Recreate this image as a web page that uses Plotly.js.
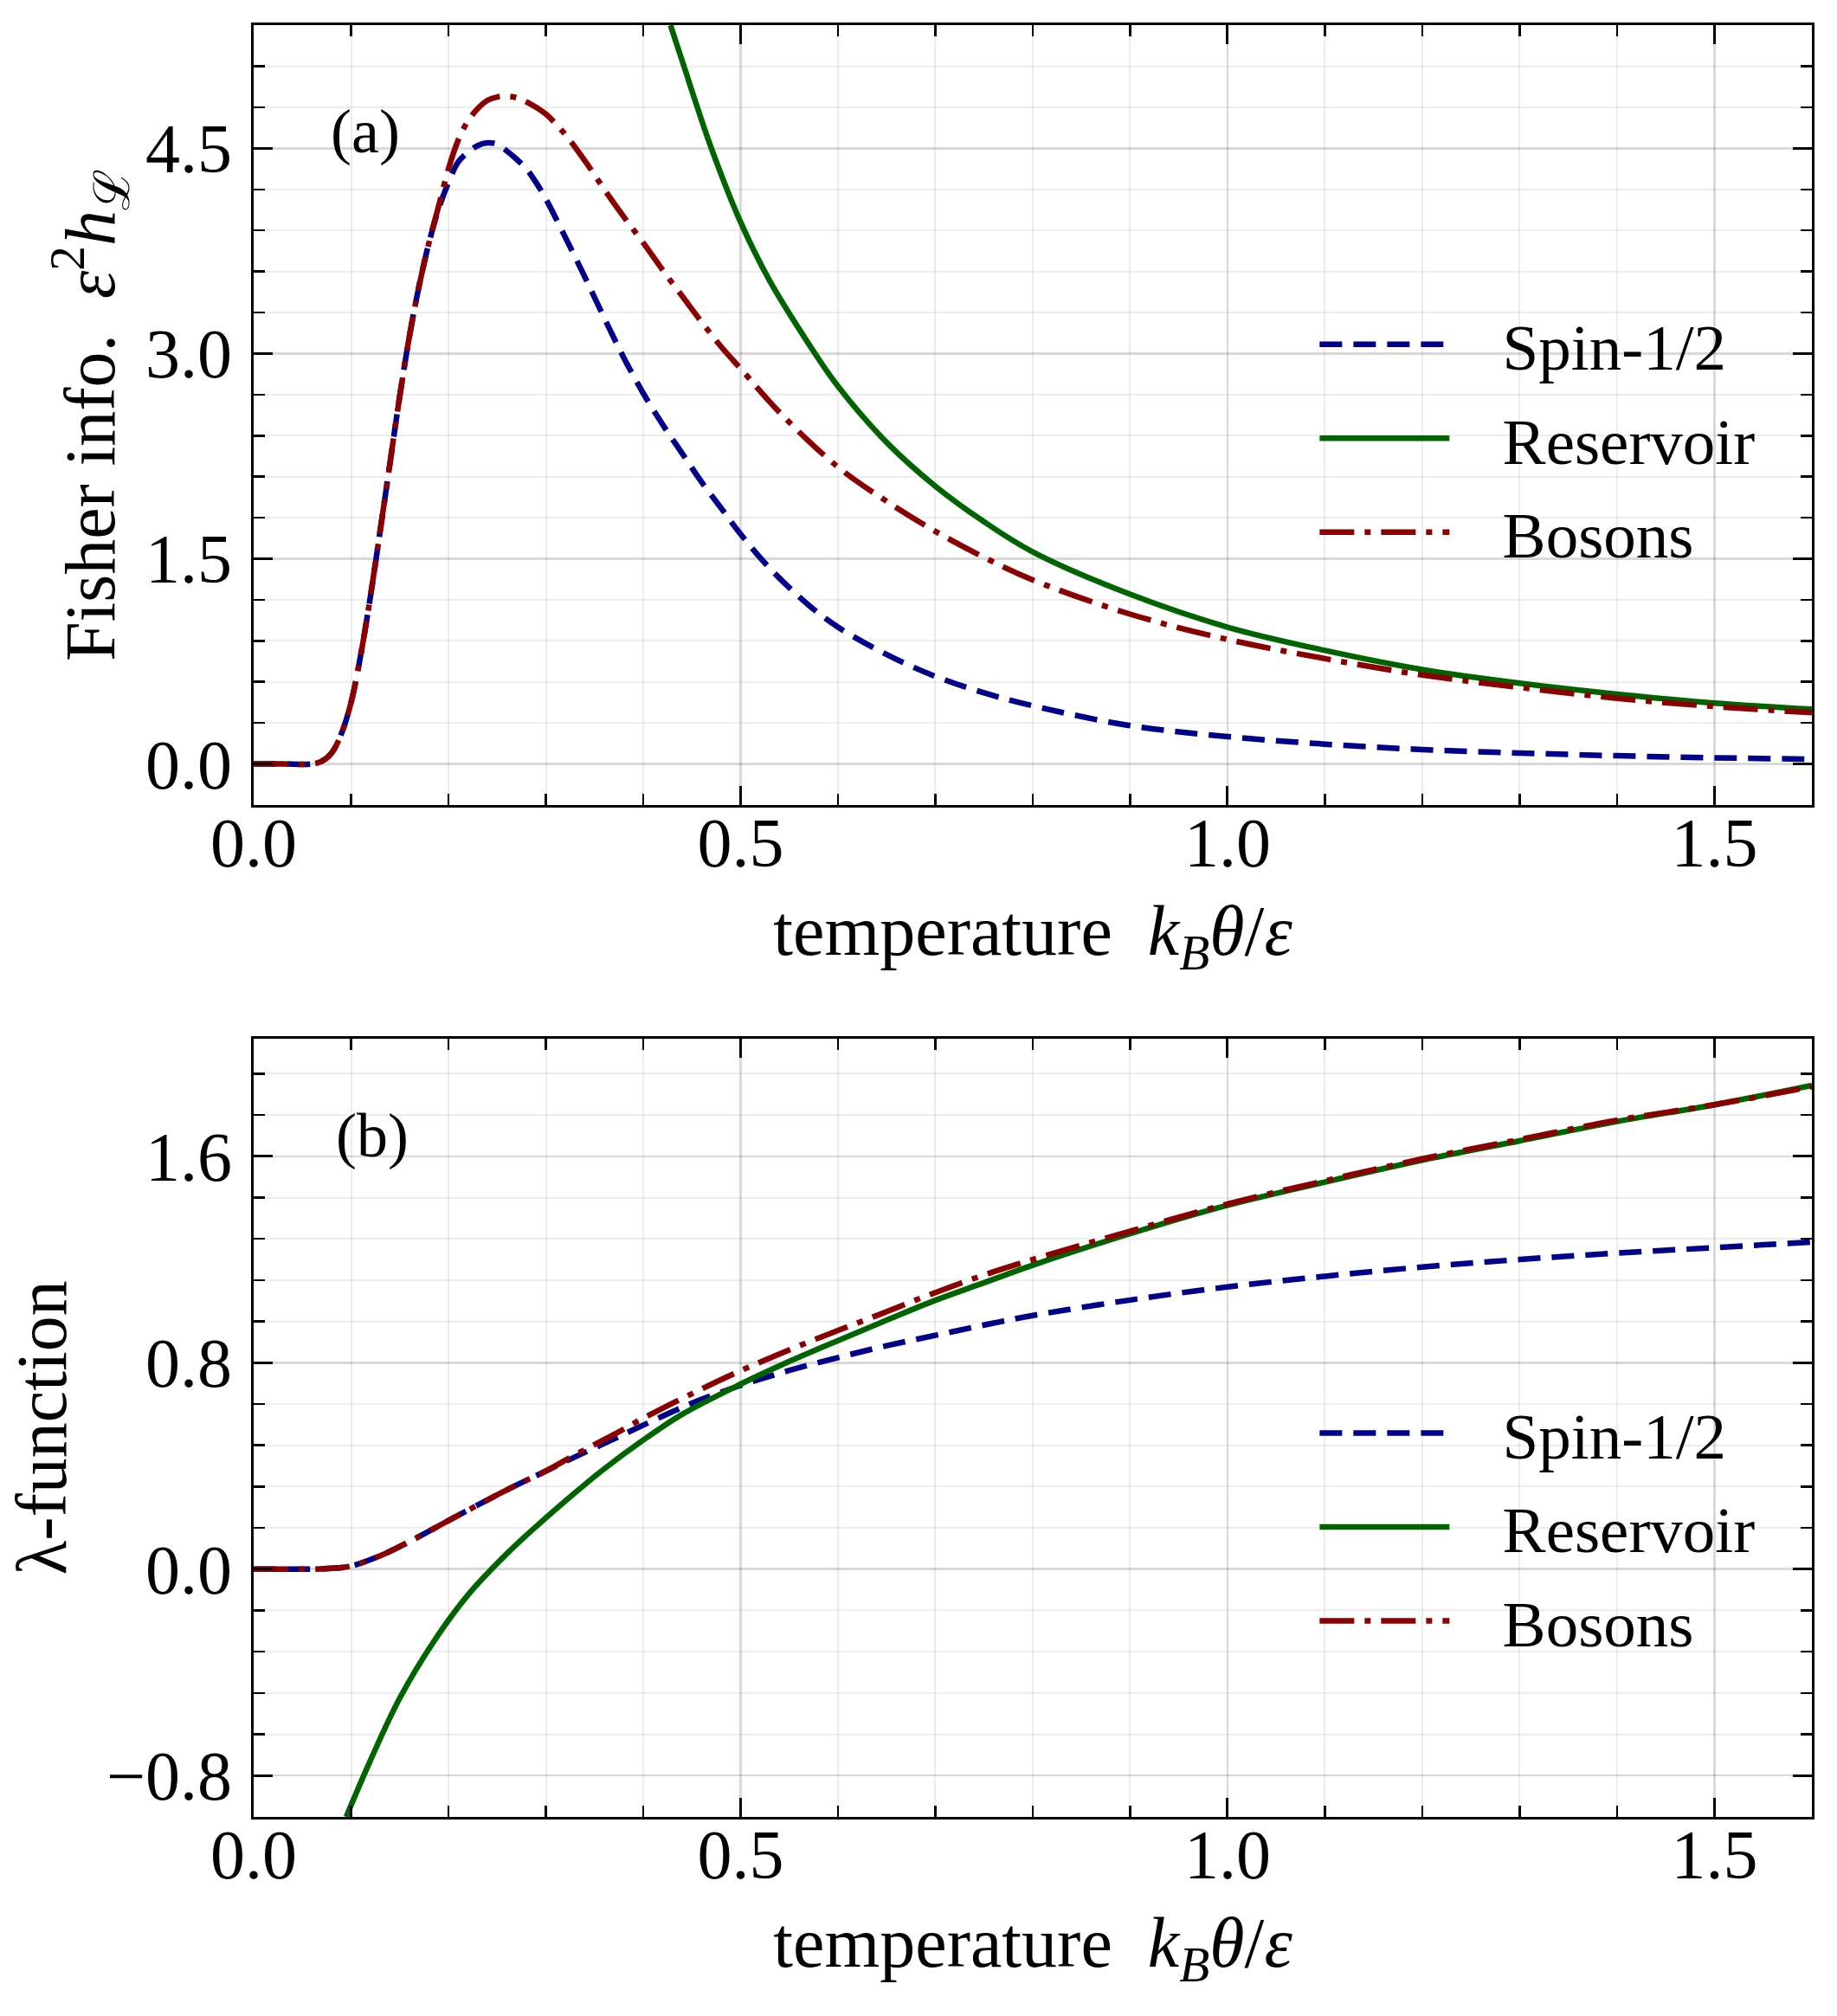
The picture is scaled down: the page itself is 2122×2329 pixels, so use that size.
<!DOCTYPE html>
<html>
<head>
<meta charset="utf-8">
<script src="https://cdn.plot.ly/plotly-3.0.1.min.js"></script>
<style>
  html, body { margin: 0; padding: 0; background: #ffffff; }
  #chart { width: 2122px; height: 2329px; }
</style>
</head>
<body>
<div id="chart"></div>
<script>
CHART = document.getElementById('chart');

const FONT = 'Liberation Serif, Times New Roman, serif';
const BLUE = '#00008b';
const GREEN = '#006400';
const RED = '#8b0000';

// (a) Fisher information
const fisherSpinX = [0.00, 0.03, 0.06, 0.07, 0.08, 0.09, 0.10, 0.11, 0.12, 0.13, 0.14, 0.15, 0.16, 0.17, 0.18, 0.19,
  0.20, 0.21, 0.22, 0.23, 0.24, 0.25, 0.26, 0.27, 0.28, 0.29, 0.30, 0.32, 0.34, 0.36, 0.38, 0.40, 0.42, 0.44, 0.46,
  0.48, 0.50, 0.53, 0.57, 0.60, 0.65, 0.70, 0.75, 0.80, 0.90, 1.00, 1.10, 1.20, 1.30, 1.40, 1.50, 1.60];
const fisherSpinY = [0, 0, 0, 0.02, 0.08, 0.22, 0.45, 0.80, 1.23, 1.71, 2.20, 2.69, 3.13, 3.50, 3.81, 4.06,
  4.25, 4.40, 4.47, 4.52, 4.54, 4.53, 4.48, 4.42, 4.35, 4.25, 4.13, 3.85, 3.56, 3.26, 2.97, 2.71, 2.48, 2.27, 2.06,
  1.87, 1.68, 1.43, 1.16, 1.00, 0.80, 0.64, 0.52, 0.425, 0.28, 0.20, 0.145, 0.105, 0.08, 0.06, 0.045, 0.035];

const fisherResX = [0.428, 0.44, 0.45, 0.47, 0.50, 0.53, 0.57, 0.60, 0.65, 0.70, 0.75, 0.80, 0.90, 1.00,
  1.10, 1.20, 1.30, 1.40, 1.50, 1.60];
const fisherResY = [5.40, 5.14, 4.92, 4.50, 3.96, 3.53, 3.07, 2.76, 2.35, 2.03, 1.77, 1.55, 1.24, 1.00,
  0.83, 0.69, 0.59, 0.51, 0.445, 0.40];

const fisherBosX = [0.00, 0.03, 0.06, 0.07, 0.08, 0.09, 0.10, 0.11, 0.12, 0.13, 0.14, 0.15, 0.16, 0.17, 0.18, 0.19,
  0.20, 0.21, 0.22, 0.23, 0.24, 0.25, 0.26, 0.27, 0.28, 0.30, 0.32, 0.34, 0.36, 0.38, 0.40, 0.42, 0.44, 0.46,
  0.48, 0.50, 0.54, 0.60, 0.65, 0.70, 0.75, 0.80, 0.90, 1.00, 1.10, 1.20, 1.30, 1.40, 1.50, 1.60];
const fisherBosY = [0, 0, 0, 0.02, 0.08, 0.22, 0.45, 0.80, 1.23, 1.71, 2.20, 2.69, 3.13, 3.50, 3.81, 4.08,
  4.35, 4.56, 4.70, 4.79, 4.85, 4.875, 4.88, 4.87, 4.84, 4.75, 4.60, 4.41, 4.20, 4.00, 3.81, 3.61, 3.42, 3.23,
  3.05, 2.89, 2.57, 2.17, 1.92, 1.70, 1.51, 1.345, 1.095, 0.91, 0.77, 0.65, 0.56, 0.48, 0.42, 0.375];

// (b) lambda-function
const lamSpinX = [0.00, 0.03, 0.06, 0.08, 0.10, 0.13, 0.16, 0.20, 0.24, 0.27, 0.30, 0.33, 0.37, 0.40, 0.45,
  0.50, 0.55, 0.60, 0.65, 0.70, 0.75, 0.80, 0.90, 1.00, 1.10, 1.20, 1.30, 1.40, 1.50, 1.60];
const lamSpinY = [0, 0, 0, 0.003, 0.012, 0.052, 0.107, 0.188, 0.268, 0.326, 0.38, 0.435, 0.505, 0.558, 0.643,
  0.712, 0.77, 0.82, 0.866, 0.906, 0.946, 0.983, 1.043, 1.094, 1.135, 1.171, 1.20, 1.225, 1.246, 1.268];

const lamResX = [0.095, 0.12, 0.15, 0.185, 0.22, 0.26, 0.29, 0.325, 0.357, 0.40, 0.44, 0.50, 0.55, 0.60,
  0.65, 0.70, 0.75, 0.80, 0.90, 1.00, 1.10, 1.20, 1.30, 1.40, 1.50, 1.60];
const lamResY = [-0.96, -0.74, -0.50, -0.28, -0.10, 0.06, 0.165, 0.28, 0.38, 0.50, 0.60, 0.717, 0.805, 0.886,
  0.965, 1.042, 1.11, 1.178, 1.30, 1.41, 1.50, 1.585, 1.66, 1.735, 1.80, 1.875];

const lamBosX = [0.00, 0.03, 0.06, 0.08, 0.10, 0.13, 0.16, 0.20, 0.24, 0.27, 0.30, 0.33, 0.37, 0.40, 0.45,
  0.50, 0.55, 0.60, 0.65, 0.70, 0.75, 0.80, 0.90, 1.00, 1.10, 1.20, 1.30, 1.40, 1.50, 1.60];
const lamBosY = [0, 0, 0, 0.003, 0.012, 0.052, 0.107, 0.188, 0.268, 0.326, 0.38, 0.443, 0.522, 0.585, 0.68,
  0.769, 0.85, 0.925, 0.998, 1.072, 1.14, 1.20, 1.31, 1.415, 1.505, 1.59, 1.665, 1.74, 1.80, 1.87];

const seriesNames = ['Spin-1/2', 'Reservoir', 'Bosons'];
const panelLabels = ['(a)', '(b)'];

const LW = 6.5;
const DASHED = '26px,13px';
const DASHDOT = '40px,12px,7px,12px';
const PAD = '\u00a0\u00a0\u00a0';  // gap between legend line and label

function line(x, y, name, color, dash, xa, ya, leg) {
    return {
        x: x, y: y, name: PAD + name, type: 'scatter', mode: 'lines',
        xaxis: xa, yaxis: ya, legend: leg, legendgroup: leg + name,
        line: { color: color, width: LW, dash: dash, shape: 'spline', smoothing: 1 },
        hoverinfo: 'skip'
    };
}

const traces = [
    line(fisherSpinX, fisherSpinY, seriesNames[0], BLUE, DASHED, 'x', 'y', 'legend'),
    line(fisherResX, fisherResY, seriesNames[1], GREEN, 'solid', 'x', 'y', 'legend'),
    line(fisherBosX, fisherBosY, seriesNames[2], RED, DASHDOT, 'x', 'y', 'legend'),
    line(lamSpinX, lamSpinY, seriesNames[0], BLUE, DASHED, 'x2', 'y2', 'legend2'),
    line(lamResX, lamResY, seriesNames[1], GREEN, 'solid', 'x2', 'y2', 'legend2'),
    line(lamBosX, lamBosY, seriesNames[2], RED, DASHDOT, 'x2', 'y2', 'legend2')
];

const TICKFONT = { family: FONT, size: 80, color: '#000' };
const TITLEFONT = { family: FONT, size: 82, color: '#000' };

function minorOpts(step) {
    return { dtick: step, ticks: 'inside', ticklen: 13, tickwidth: 2.5, tickcolor: '#000',
             showgrid: true, gridcolor: 'rgba(0,0,0,0.07)', gridwidth: 2 };
}

function axisBase(extra) {
    return Object.assign({
        ticks: 'inside', ticklen: 22, tickwidth: 3, tickcolor: '#000',
        showline: true, linewidth: 3, linecolor: '#000', mirror: 'allticks',
        showgrid: true, gridcolor: 'rgba(0,0,0,0.15)', gridwidth: 2.5,
        zeroline: false, tickfont: TICKFONT, tickformat: '.1f',
        fixedrange: true
    }, extra);
}

const xTitle = 'temperature\u00a0\u00a0<i>k</i><sub><i>B</i></sub><i>θ</i>/<i>ε</i>';

function legendOpts(y) {
    return {
        x: 0.716, y: y, xanchor: 'left', yanchor: 'middle',
        bgcolor: 'rgba(0,0,0,0)', borderwidth: 0,
        font: { family: FONT, size: 75, color: '#000' },
        itemwidth: 150, traceorder: 'grouped', tracegroupgap: 8
    };
}

const layout = {
    width: 2122, height: 2329,
    margin: { l: 0, r: 0, t: 0, b: 0 },
    paper_bgcolor: '#ffffff', plot_bgcolor: '#ffffff',
    font: { family: FONT, color: '#000' },
    showlegend: true,
    xaxis: axisBase({
        domain: [0.1381, 0.9863], anchor: 'y', range: [0, 1.6], tick0: 0, dtick: 0.5,
        ticklabelstandoff: -28, minor: minorOpts(0.1),
        title: { text: xTitle, font: TITLEFONT, standoff: 29 }
    }),
    yaxis: axisBase({
        domain: [0.6007, 0.9875], anchor: 'x', range: [-0.3, 5.4], tick0: 0, dtick: 1.5,
        ticklabelstandoff: 6, minor: minorOpts(0.3),
        title: { text: 'Fisher info.\u00a0\u00a0<i>ε</i><sup>2</sup><i>h</i><sub>ℒ</sub>', font: TITLEFONT, standoff: 9 }
    }),
    xaxis2: axisBase({
        domain: [0.1381, 0.9863], anchor: 'y2', range: [0, 1.6], tick0: 0, dtick: 0.5,
        ticklabelstandoff: -28, minor: minorOpts(0.1),
        title: { text: xTitle, font: TITLEFONT, standoff: 29 }
    }),
    yaxis2: axisBase({
        domain: [0.0988, 0.4848], anchor: 'x2', range: [-0.96, 2.056], tick0: 0, dtick: 0.8,
        ticklabelstandoff: 6, minor: minorOpts(0.16),
        title: { text: 'λ-function', font: TITLEFONT, standoff: 20 }
    }),
    legend: legendOpts(0.7825),
    legend2: legendOpts(0.2425),
    annotations: [
        { text: panelLabels[0], xref: 'x', yref: 'y', x: 0.115, y: 4.62, showarrow: false,
          font: { family: FONT, size: 72, color: '#000' } },
        { text: panelLabels[1], xref: 'x2', yref: 'y2', x: 0.122, y: 1.68, showarrow: false,
          font: { family: FONT, size: 72, color: '#000' } }
    ]
};

Plotly.newPlot(CHART, traces, layout, { staticPlot: true, displayModeBar: false });
</script>
</body>
</html>
